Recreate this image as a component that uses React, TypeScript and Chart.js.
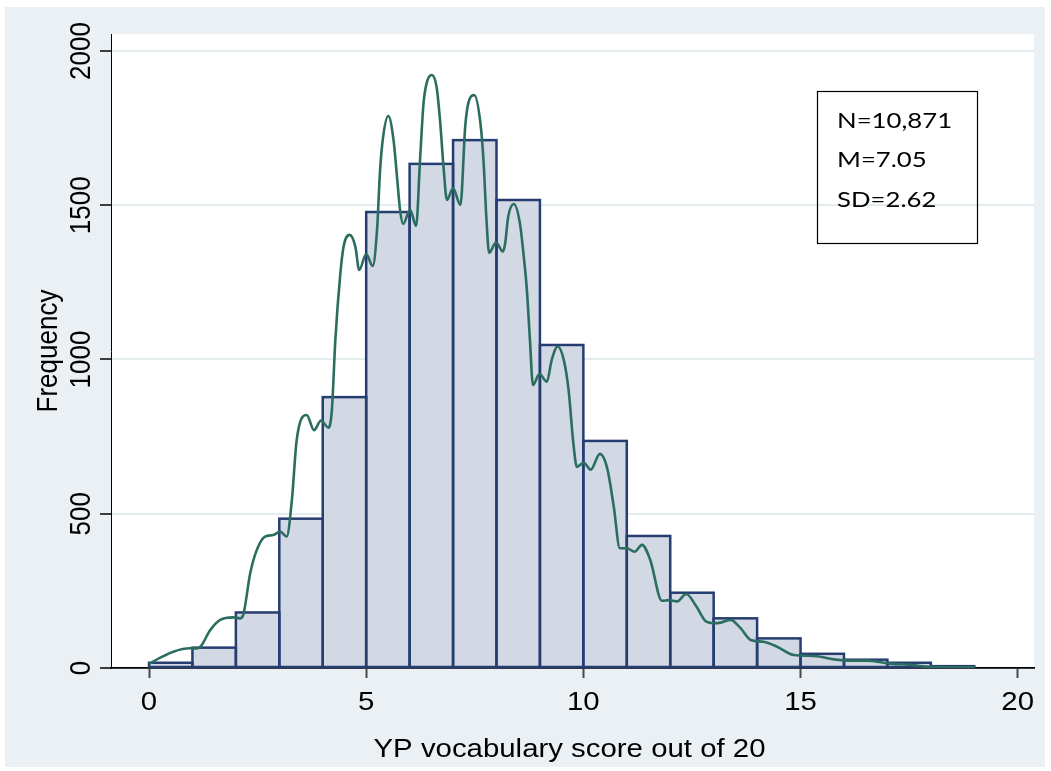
import React, { useEffect, useRef } from "react";
import { Chart, registerables } from "chart.js";

Chart.register(...registerables);

// ---- Data ----
const binStarts = [0, 1, 2, 3, 4, 5, 6, 7, 8, 9, 10, 11, 12, 13, 14, 15, 16, 17, 18];
const binCounts = [17, 66, 180, 484, 878, 1478, 1634, 1711, 1517, 1047, 736, 428, 244, 161, 96, 46, 27, 17, 6];

const densityX = [
  0, 0.25, 0.56, 0.94, 1.1, 1.2, 1.41, 1.64, 1.94, 2.1, 2.17, 2.33, 2.48, 2.67, 2.86, 3.02, 3.17, 3.29, 3.4,
  3.63, 3.8, 3.96, 4.13, 4.21, 4.29, 4.4, 4.48, 4.62, 4.75, 4.84, 5.0, 5.15, 5.25, 5.32, 5.39, 5.51, 5.63,
  5.71, 5.78, 5.85, 6.01, 6.15, 6.24, 6.32, 6.39, 6.51, 6.62, 6.7, 6.78, 6.86, 7.0, 7.17, 7.28, 7.35, 7.49,
  7.63, 7.7, 7.77, 7.83, 7.99, 8.15, 8.2, 8.27, 8.4, 8.54, 8.62, 8.7, 8.77, 8.84, 8.99, 9.16, 9.27, 9.41,
  9.55, 9.66, 9.77, 9.85, 10.01, 10.17, 10.38, 10.55, 10.7, 10.84, 11.0, 11.18, 11.35, 11.54, 11.81, 11.97,
  12.16, 12.37, 12.6, 12.83, 13.0, 13.16, 13.39, 13.62, 13.85, 14.15, 14.46, 14.85, 15.31, 15.77, 16.15,
  16.54, 17.0, 17.53, 18.0, 19.0,
];
const densityY = [
  13, 33, 53, 64, 63, 72, 123, 156, 164, 161, 172, 307, 382, 426, 431, 442, 426, 545, 739,
  820, 771, 802, 779, 836, 1063, 1270, 1366, 1404, 1366, 1290, 1342, 1303, 1420, 1614, 1722, 1789, 1711,
  1592, 1485, 1439, 1485, 1433, 1647, 1830, 1895, 1922, 1884, 1776, 1625, 1517, 1555, 1501, 1755, 1830, 1857,
  1766, 1647, 1452, 1346, 1379, 1350, 1377, 1463, 1504, 1441, 1344, 1225, 1063, 917, 953, 928, 998, 1042,
  998, 901, 728, 652, 665, 643, 694, 647, 523, 388, 388, 377, 399, 350, 218, 220,
  216, 240, 200, 150, 145, 147, 156, 129, 91, 85, 69, 42, 39, 28, 24,
  24, 15, 10, 4, 2,
];

const xTicks = [0, 5, 10, 15, 20];
const yTicks = [0, 500, 1000, 1500, 2000];
const xTitle = "YP vocabulary score out of 20";
const yTitle = "Frequency";
const statsLines = ["N=10,871", "M=7.05", "SD=2.62"];

// ---- Styles ----
const AXIS_FONT = '"Liberation Sans", Arial, Helvetica, sans-serif';
const SX = 1.13;
const BAR_FILL = "#d2d8e4";
const BAR_EDGE = "#263d72";
const LINE_COLOR = "#2b6e60";
const GRID_COLOR = "#e3ecef";
const OUTER_BG = "#eaf0f3";
const BAR_DATASET = 1;

const decorPlugin = {
  id: "stataDecor",
  beforeDraw(chart: any) {
    const ctx = chart.ctx;
    const a = chart.chartArea;
    ctx.save();
    ctx.fillStyle = OUTER_BG;
    ctx.fillRect(5, 7, 1040, 760);
    ctx.fillStyle = "#ffffff";
    ctx.fillRect(a.left, a.top, a.right - a.left, a.bottom - a.top);
    ctx.restore();
  },
  afterDatasetDraw(chart: any, args: any) {
    if (args.index !== BAR_DATASET) return;
    const ctx = chart.ctx;
    ctx.save();
    ctx.strokeStyle = BAR_EDGE;
    ctx.lineWidth = 2.5;
    ctx.lineJoin = "miter";
    for (const el of args.meta.data) {
      const p = el.getProps(["x", "y", "base", "width"], true);
      const left = p.x - p.width / 2;
      ctx.strokeRect(left, p.y, p.width, p.base - p.y);
    }
    ctx.restore();
  },
  afterDraw(chart: any) {
    const ctx = chart.ctx;
    const a = chart.chartArea;
    const xs = chart.scales.x;
    const ys = chart.scales.y;
    ctx.save();
    ctx.fillStyle = "#000";
    ctx.font = `26px ${AXIS_FONT}`;
    ctx.textAlign = "center";
    ctx.textBaseline = "alphabetic";

    for (const v of xTicks) {
      const px = xs.getPixelForValue(v);
      ctx.save();
      ctx.translate(px, a.bottom + 42);
      ctx.scale(SX, 1);
      ctx.fillText(String(v), 0, 0);
      ctx.restore();
    }
    for (const v of yTicks) {
      const py = ys.getPixelForValue(v);
      ctx.save();
      ctx.translate(a.left - 21, py);
      ctx.scale(SX, 1);
      ctx.rotate(-Math.PI / 2);
      ctx.fillText(String(v), 0, 0);
      ctx.restore();
    }
    ctx.save();
    ctx.translate((a.left + a.right) / 2 - 3, a.bottom + 89);
    ctx.scale(SX, 1);
    ctx.fillText(xTitle, 0, 0);
    ctx.restore();
    ctx.save();
    ctx.translate(a.left - 54, (a.top + a.bottom) / 2);
    ctx.scale(SX, 1);
    ctx.rotate(-Math.PI / 2);
    ctx.fillText(yTitle, 0, 0);
    ctx.restore();

    const bx = a.right - 217;
    const by = a.top + 57;
    ctx.strokeStyle = "#000";
    ctx.lineWidth = 1.2;
    ctx.strokeRect(bx + 0.5, by + 0.5, 160, 152);
    ctx.font = `22px Lato, "Open Sans", sans-serif`;
    ctx.textAlign = "left";
    const baselines = [by + 37, by + 76, by + 116];
    statsLines.forEach((t, i) => {
      ctx.save();
      ctx.translate(bx + 20, baselines[i]);
      ctx.scale(1.17, 1);
      ctx.fillText(t, 0, 0);
      ctx.restore();
    });
    ctx.restore();
  },
};

export default function App() {
  const canvasRef = useRef<HTMLCanvasElement | null>(null);

  useEffect(() => {
    const canvas = canvasRef.current;
    if (!canvas) return;
    const chart = new Chart(canvas, {
      type: "bar",
      data: {
        datasets: [
          {
            type: "line",
            data: densityX.map((x, i) => ({ x, y: densityY[i] })),
            borderColor: LINE_COLOR,
            borderWidth: 2.6,
            pointRadius: 0,
            cubicInterpolationMode: "monotone",
            fill: false,
            order: 0,
          } as any,
          {
            type: "bar",
            data: binStarts.map((s, i) => ({ x: s + 0.5, y: binCounts[i] })),
            backgroundColor: BAR_FILL,
            borderWidth: 0,
            inflateAmount: 0,
            barPercentage: 1,
            categoryPercentage: 1,
            order: 1,
          } as any,
        ],
      },
      options: {
        responsive: false,
        animation: false,
        devicePixelRatio: 1,
        layout: { padding: { left: 0, top: 34, right: 17, bottom: 0 } },
        plugins: { legend: { display: false }, tooltip: { enabled: false } },
        scales: {
          x: {
            type: "linear",
            min: -0.875,
            max: 20.375,
            offset: false,
            z: 1,
            afterBuildTicks: (s: any) => {
              s.ticks = xTicks.map((v) => ({ value: v }));
            },
            afterFit: (s: any) => {
              s.height = 103;
            },
            ticks: { display: false },
            grid: {
              display: true,
              drawOnChartArea: false,
              drawTicks: true,
              tickLength: 10,
              tickColor: "#4a4a4a",
              tickWidth: 2,
              offset: false,
            },
            border: { display: true, color: "#000", width: 1.8 },
          },
          y: {
            type: "linear",
            min: 0,
            max: 2055,
            afterBuildTicks: (s: any) => {
              s.ticks = yTicks.map((v) => ({ value: v }));
            },
            afterFit: (s: any) => {
              s.width = 111;
            },
            ticks: { display: false },
            grid: {
              color: GRID_COLOR,
              lineWidth: 2,
              drawTicks: true,
              tickColor: "#000",
              tickLength: 11,
              tickWidth: 1.5,
            },
            border: { display: true, color: "#000", width: 1 },
          },
        } as any,
      },
      plugins: [decorPlugin],
    });
    return () => chart.destroy();
  }, []);

  return (
    <div style={{ position: "absolute", left: 0, top: 0, width: 1051, height: 771 }}>
      <canvas ref={canvasRef} width={1051} height={771} style={{ width: 1051, height: 771 }} />
    </div>
  );
}
